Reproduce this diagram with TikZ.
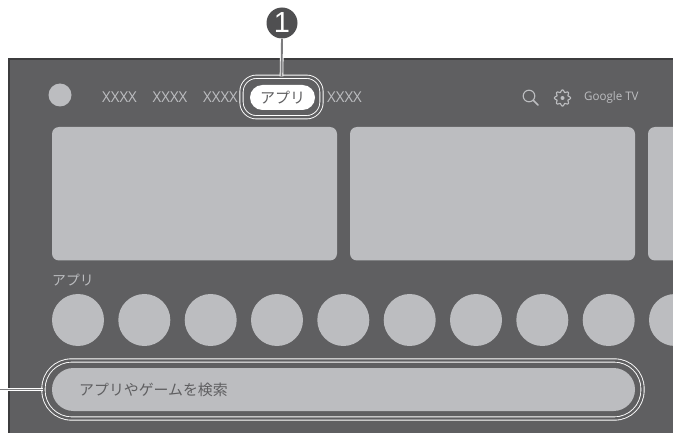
\documentclass[tikz,border=0pt]{standalone}
\usepackage{fontspec}
\setmainfont{Noto Sans CJK JP}
\newfontfamily\latinf{Open Sans}
\newfontfamily\numf{Liberation Sans}
\definecolor{panel}{HTML}{5F5F61}
\definecolor{lite}{HTML}{BCBDC0}
\definecolor{ink}{HTML}{3C3C3E}
\definecolor{txt}{HTML}{5F5F61}
\definecolor{bub}{HTML}{4F4F51}
\definecolor{lead}{HTML}{7C7C7E}
\tikzset{
 x=1pt,y=-1pt,
 card/.style={fill=lite,rounded corners=7pt},
 disc/.style={circle,fill=lite,draw=none,minimum size=52pt,inner sep=0pt},
 ring/.style={rectangle,draw=white,line width=0.9pt,double=panel,double distance=2.4pt,inner sep=0pt},
 leadcase/.style={draw=white,line width=3.6pt},
 leadcore/.style={draw=lead,line width=1.9pt},
 navtext/.style={text=lite,font=\latinf\fontsize{15}{15}\selectfont,inner sep=0pt,anchor=west},
}
\begin{document}
\begin{tikzpicture}
\useasboundingbox (0,0) rectangle (673,433);
\fill[panel] (9,59) rectangle (673,433);
\draw[ink,line width=1.2pt] (9,433) -- (9,59) -- (673,59);
% cards
\fill[card] (52,127) rectangle (337,260.5);
\fill[card] (350,127) rectangle (635,260.5);
\begin{scope}
\clip (640,120) rectangle (673,270);
\fill[card] (648,127) rectangle (700,260.5);
\end{scope}
% top bar
\node[disc,minimum size=23pt] (avatar) at (60,95) {};
\node[navtext] (n1) at (102,97) {XXXX};
\node[navtext] (n2) at (152.5,97) {XXXX};
\node[navtext] (n3) at (203,97) {XXXX};
\node[navtext] (n4) at (327,97) {XXXX};
\node[rectangle,fill=white,rounded corners=12.5pt,minimum width=65pt,minimum height=25pt,inner sep=0pt,
  text=txt,font=\fontsize{15}{15}\selectfont] (tab) at (282.5,97.5) {アプリ};
\node[ring,rounded corners=15pt,minimum width=80pt,minimum height=40.5pt] (tabring) at (281.5,97) {};
% icons
\draw[lite,line width=1.1pt] (529,96) circle (5.8pt);
\draw[lite,line width=1.6pt,line cap=round] (533.2,100.2) -- (538,105);
\draw[lite,line width=1.1pt,line join=round]
 plot[samples=97,domain=0:356.25,variable=\t] ({562.5+(7+1.1*cos(8*\t))*cos(\t)},{98+(7+1.1*cos(8*\t))*sin(\t)}) -- cycle;
\fill[lite] (562.5,98) circle (2pt);
\node[text=lite,font=\latinf\fontsize{11.8}{12}\selectfont,inner sep=0pt,anchor=west,xscale=0.98] (gtv) at (584,97) {Google TV};
% apps row
\node[text=lite,font=\fontsize{13.8}{14}\selectfont,inner sep=0pt,anchor=west] (applbl) at (52,280) {アプリ};
\foreach \i/\cx in {1/78,2/144.3,3/210.7,4/277,5/343.3,6/409.7,7/476,8/542.3,9/608.7}{
  \node[disc] (c\i) at (\cx,320) {};
}
\begin{scope}
\clip (640,290) rectangle (673,350);
\node[disc] (c10) at (675,320) {};
\end{scope}
% search
\node[rectangle,fill=lite,rounded corners=21.5pt,minimum width=583pt,minimum height=43pt,inner sep=0pt] (bar) at (343.5,389.5) {};
\node[text=txt,font=\fontsize{14.9}{15}\selectfont,inner sep=0pt,anchor=west] (bartxt) at (79,390) {アプリやゲームを検索};
\node[ring,rounded corners=28pt,minimum width=599pt,minimum height=58pt] (barring) at (343,389.5) {};
% callout
\node[circle,fill=bub,minimum size=31pt,inner sep=0pt,text=white,font=\numf\fontsize{29}{29}\selectfont] (bubble) at (282,23) {1};
\coordinate (freeend) at (0,389.5);
\draw[leadcase] (bubble.south) -- (tabring.north);
\draw[leadcore] (bubble.south) -- (tabring.north);
\draw[leadcase] (freeend) -- (barring.west);
\draw[leadcore] (freeend) -- (barring.west);
\end{tikzpicture}
\end{document}
